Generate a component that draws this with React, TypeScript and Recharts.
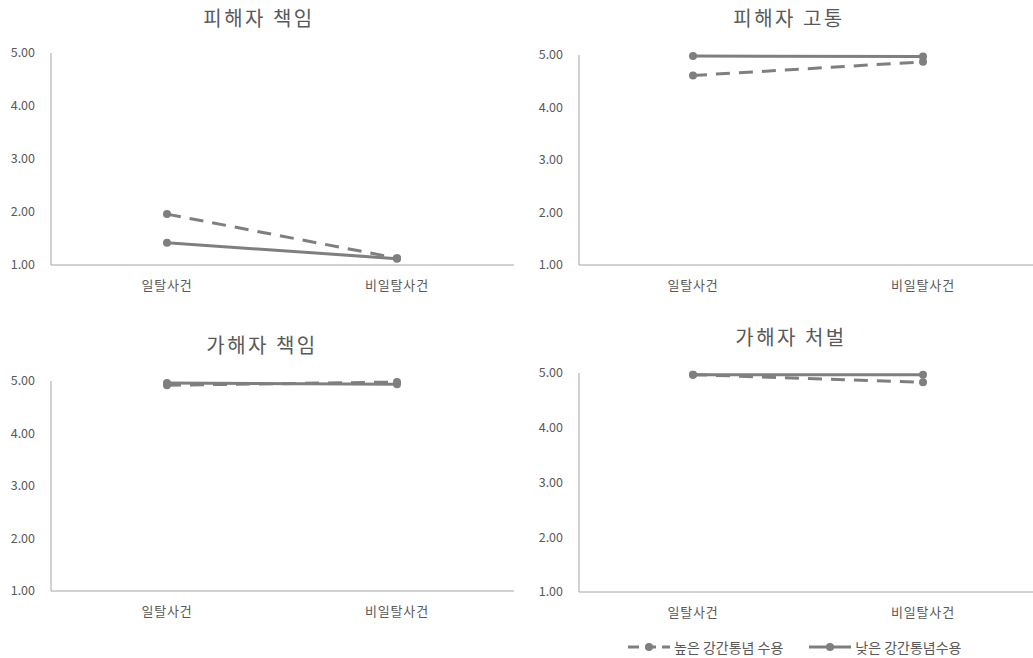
import { LineChart, Line, XAxis, YAxis } from "recharts";

const CATEGORIES = ["일탈사건", "비일탈사건"];
const Y_TICKS = [1, 2, 3, 4, 5];

const HIGH_VICTIM_BLAME = [1.96, 1.13];
const LOW_VICTIM_BLAME = [1.42, 1.12];
const HIGH_VICTIM_PAIN = [4.61, 4.87];
const LOW_VICTIM_PAIN = [4.98, 4.97];
const HIGH_PERP_BLAME = [4.92, 4.98];
const LOW_PERP_BLAME = [4.96, 4.94];
const HIGH_PERP_PUNISH = [4.97, 4.83];
const LOW_PERP_PUNISH = [4.97, 4.97];

const SERIES = [
  { key: "high", name: "높은 강간통념 수용", dash: "14 9" },
  { key: "low", name: "낮은 강간통념수용", dash: undefined },
];

const FONT = "'Noto Sans CJK KR', 'Noto Sans', sans-serif";
const LINE = "#7f7f7f";
const AXIS = "#a6a6a6";
const TEXT = "#595959";

const build = (high: number[], low: number[]) =>
  CATEGORIES.map((cat, i) => ({ cat, high: high[i], low: low[i] }));

interface PanelProps {
  title: string;
  high: number[];
  low: number[];
  left: number;
  top: number;
  width: number;
  height: number;
  margin: { top: number; right: number; bottom: number; left: number };
  titleTop: number;
  titleCenter: number;
  pad: { left: number; right: number };
}

function Panel({ title, high, low, left, top, width, height, margin, titleTop, titleCenter, pad }: PanelProps) {
  const data = build(high, low);
  return (
    <div style={{ position: "absolute", left, top, width, height }}>
      <div
        style={{
          position: "absolute",
          left: titleCenter - 100,
          width: 200,
          top: titleTop,
          textAlign: "center",
          fontSize: 20,
          letterSpacing: 2.5,
          color: TEXT,
          fontFamily: FONT,
          lineHeight: "24px",
          whiteSpace: "nowrap",
        }}
      >
        {title}
      </div>
      <LineChart width={width} height={height} data={data} margin={margin}>
        <XAxis
          dataKey="cat"
          axisLine={{ stroke: AXIS }}
          tickLine={false}
          tick={{ fill: TEXT, fontSize: 13, fontFamily: FONT, letterSpacing: 0.8 }}
          tickMargin={10}
          padding={pad}
          height={35}
        />
        <YAxis
          domain={[1, 5]}
          ticks={Y_TICKS}
          tickFormatter={(v: number) => v.toFixed(2)}
          axisLine={{ stroke: AXIS }}
          tickLine={false}
          tick={{ fill: TEXT, fontSize: 12.5, fontFamily: FONT }}
          tickMargin={10}
          width={51}
        />
        {SERIES.map((s) => (
          <Line
            key={s.key}
            dataKey={s.key}
            name={s.name}
            stroke={LINE}
            strokeWidth={3}
            strokeDasharray={s.dash}
            dot={{ r: 4, fill: LINE, stroke: LINE, strokeWidth: 0 }}
            activeDot={false}
            isAnimationActive={false}
          />
        ))}
      </LineChart>
    </div>
  );
}

function LegendIcon({ dash }: { dash?: string }) {
  return (
    <svg width={42} height={10} style={{ marginRight: 4 }}>
      <line x1={0} y1={5} x2={42} y2={5} stroke={LINE} strokeWidth={3} strokeDasharray={dash ? "11 6" : undefined} />
      <circle cx={21} cy={5} r={4} fill={LINE} />
    </svg>
  );
}

export default function App() {
  return (
    <div style={{ position: "absolute", left: 0, top: 0, width: 1033, height: 658, background: "#fff", fontFamily: FONT }}>
      <Panel
        title="피해자 책임"
        high={HIGH_VICTIM_BLAME}
        low={LOW_VICTIM_BLAME}
        left={0}
        top={0}
        width={520}
        height={300}
        margin={{ top: 53, right: 6, bottom: 0, left: 0 }}
        titleTop={6}
        titleCenter={259}
        pad={{ left: 116, right: 117 }}
      />
      <Panel
        title="피해자 고통"
        high={HIGH_VICTIM_PAIN}
        low={LOW_VICTIM_PAIN}
        left={528}
        top={0}
        width={505}
        height={300}
        margin={{ top: 55, right: 0, bottom: 0, left: 0 }}
        titleTop={6}
        titleCenter={261}
        pad={{ left: 114, right: 110 }}
      />
      <Panel
        title="가해자 책임"
        high={HIGH_PERP_BLAME}
        low={LOW_PERP_BLAME}
        left={0}
        top={320}
        width={520}
        height={310}
        margin={{ top: 61, right: 6, bottom: 4, left: 0 }}
        titleTop={13}
        titleCenter={262}
        pad={{ left: 116, right: 117 }}
      />
      <Panel
        title="가해자 처벌"
        high={HIGH_PERP_PUNISH}
        low={LOW_PERP_PUNISH}
        left={528}
        top={320}
        width={505}
        height={310}
        margin={{ top: 53, right: 0, bottom: 3, left: 0 }}
        titleTop={5}
        titleCenter={263}
        pad={{ left: 114, right: 110 }}
      />
      <div
        style={{
          position: "absolute",
          left: 628,
          top: 637,
          display: "flex",
          alignItems: "center",
          fontSize: 14,
          color: TEXT,
        }}
      >
        {SERIES.map((s) => (
          <div key={s.key} style={{ display: "flex", alignItems: "center", marginRight: 26 }}>
            <LegendIcon dash={s.dash} />
            <span>{s.name}</span>
          </div>
        ))}
      </div>
    </div>
  );
}
